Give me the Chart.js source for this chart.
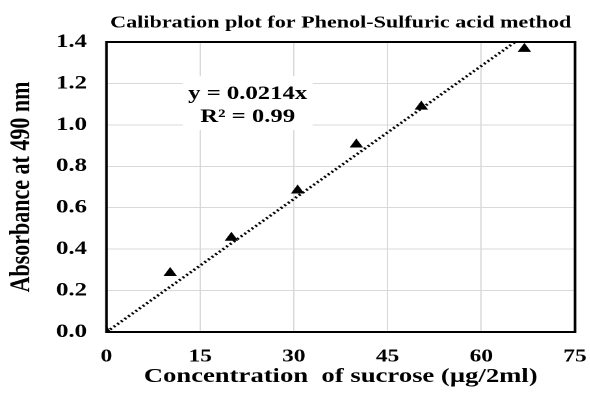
<!DOCTYPE html>
<html>
<head>
<meta charset="utf-8">
<script src="https://cdn.jsdelivr.net/npm/chart.js@4.4.1/dist/chart.umd.min.js"></script>
<style>
  html, body { margin: 0; padding: 0; background: #fff; overflow: hidden; }
  #wrap { width: 454px; height: 401px; transform: scaleX(1.3); transform-origin: 0 0; }
</style>
</head>
<body>
<div id="wrap"><canvas id="myChart" width="454" height="401"></canvas></div>
<script>
// measured points
const sucrose = [0, 10.2, 20, 30.6, 40, 50.4, 66.9];
const absorbance = [0, 0.285, 0.455, 0.683, 0.905, 1.088, 1.367];

// linear trendline y = 0.0214x, drawn until it leaves the plot
const trendX = [0, 65.4];
const trendY = [0, 1.4];

const xTicks = [0, 15, 30, 45, 60, 75];
const yTicks = [0, 0.2, 0.4, 0.6, 0.8, 1.0, 1.2, 1.4];

const equationLines = ['y = 0.0214x', 'R\u00B2 = 0.99'];

const serif = '"Liberation Serif", "Times New Roman", serif';

const frame = {
    id: 'frame',
    beforeDatasetsDraw(chart) {
        const { ctx, chartArea: a } = chart;
        ctx.save();
        ctx.strokeStyle = '#000';
        ctx.lineWidth = 2;
        ctx.strokeRect(a.left, a.top, a.right - a.left, a.bottom - a.top);
        ctx.restore();
    }
};

const equation = {
    id: 'equation',
    afterDatasetsDraw(chart) {
        const { ctx, scales } = chart;
        const cx = scales.x.getPixelForValue(22.6);
        const cy = scales.y.getPixelForValue(1.10);
        ctx.save();
        ctx.fillStyle = '#fff';
        ctx.fillRect(cx - 50, cy - 28, 100, 54);
        ctx.fillStyle = '#000';
        ctx.font = 'bold 19px ' + serif;
        ctx.textAlign = 'center';
        ctx.textBaseline = 'middle';
        ctx.fillText(equationLines[0], cx, cy - 10);
        ctx.fillText(equationLines[1], cx, cy + 13);
        ctx.restore();
    }
};

const chart = new Chart(document.getElementById('myChart'), {
    type: 'scatter',
    data: {
        datasets: [{
            data: sucrose.map((x, i) => ({ x: x, y: absorbance[i] })),
            pointStyle: 'triangle',
            pointRadius: 5,
            pointBackgroundColor: '#000',
            pointBorderColor: '#000',
            pointBorderWidth: 1,
            showLine: false,
            order: 0
        }, {
            data: trendX.map((x, i) => ({ x: x, y: trendY[i] })),
            showLine: true,
            borderColor: '#000',
            borderWidth: 2.5,
            borderDash: [1.6, 2.2],
            pointRadius: 0,
            order: 1
        }]
    },
    options: {
        responsive: false,
        animation: false,
        devicePixelRatio: 2,
        layout: { padding: { left: 0, right: 11.7, top: 0, bottom: 0 } },
        plugins: {
            legend: { display: false },
            tooltip: { enabled: false },
            title: {
                display: true,
                fullSize: false,
                text: 'Calibration plot for Phenol-Sulfuric acid method',
                color: '#000',
                font: { family: serif, size: 17, weight: 'bold', lineHeight: 1.2 },
                padding: { top: 13, bottom: 8.6 }
            }
        },
        scales: {
            x: {
                type: 'linear',
                min: 0,
                max: 75,
                afterFit: s => { s.height = 69; s.paddingLeft = 0; s.paddingRight = 0; },
                afterBuildTicks: s => { s.ticks = xTicks.map(v => ({ value: v })); },
                grid: { color: '#d9d9d9', lineWidth: 1, drawTicks: false },
                border: { display: false },
                ticks: {
                    color: '#000',
                    padding: 14,
                    font: { family: serif, size: 18, weight: 'bold' }
                },
                title: {
                    display: true,
                    text: 'Concentration  of sucrose (\u00B5g/2ml)',
                    color: '#000',
                    font: { family: serif, size: 20.5, weight: 'bold', lineHeight: 1.2 },
                    padding: { top: 0, bottom: 12 }
                }
            },
            y: {
                type: 'linear',
                min: 0,
                max: 1.4,
                afterFit: s => { s.width = 81.9; },
                afterBuildTicks: s => { s.ticks = yTicks.map(v => ({ value: v })); },
                grid: { color: '#d9d9d9', lineWidth: 1, drawTicks: false },
                border: { display: false },
                ticks: {
                    color: '#000',
                    padding: 15,
                    callback: v => v.toFixed(1),
                    font: { family: serif, size: 19, weight: 'bold' }
                },
                title: {
                    display: true,
                    text: 'Absorbance at 490 nm',
                    color: '#000',
                    font: { family: serif, size: 22, weight: 'bold', lineHeight: 1.2 },
                    padding: { top: 3.5, bottom: 0 }
                }
            }
        }
    },
    plugins: [frame, equation]
});
</script>
</body>
</html>
